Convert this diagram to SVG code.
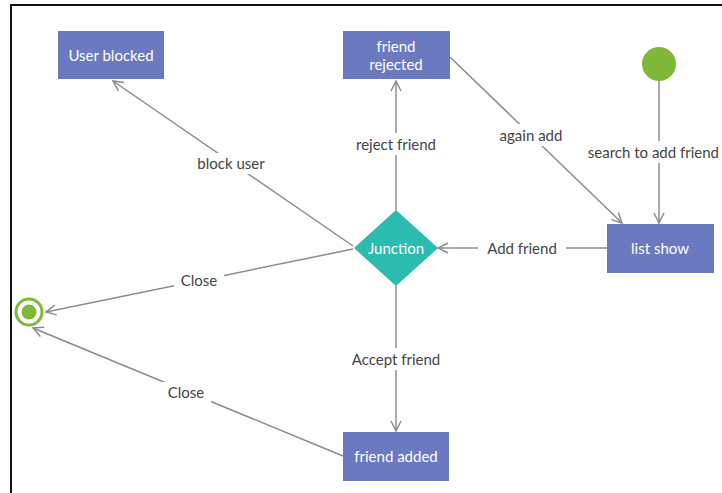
<svg xmlns="http://www.w3.org/2000/svg" width="722" height="493" viewBox="0 0 722 493">
<style>
.node{fill:#6b79c0}
.nt{font-family:Lato,"Liberation Sans",sans-serif;font-size:15px;fill:#ffffff;text-anchor:middle;dominant-baseline:central}
.lbl{font-family:Lato,"Liberation Sans",sans-serif;font-size:15px;fill:#444444;text-anchor:middle;dominant-baseline:central}
.bg{fill:#ffffff}
.edge{stroke:#8c8c8c;stroke-width:1.5;fill:none;marker-end:url(#arr)}
</style>
<defs>
<marker id="arr" viewBox="0 0 12 12" refX="11" refY="6" markerWidth="12" markerHeight="12" markerUnits="userSpaceOnUse" orient="auto">
<path d="M1,1 L11,6 L1,11" fill="none" stroke="#8c8c8c" stroke-width="1.5"/>
</marker>
</defs>
<rect x="0" y="0" width="722" height="493" fill="#ffffff"/>
<path d="M11,493 L11,5 L722,5" fill="none" stroke="#111111" stroke-width="2"/>
<g id="connectors">
<path class="edge" d="M353,246 L113,81"/>
<path class="edge" d="M353,249 L46,312"/>
<path class="edge" d="M343,456 L33,328"/>
<path class="edge" d="M396,210 L396,81"/>
<path class="edge" d="M450,57 L622,223"/>
<path class="edge" d="M659,81 L659,223"/>
<path class="edge" d="M607,248 L438,248"/>
<path class="edge" d="M396,286 L396,431"/>
<rect class="bg" x="192" y="153" width="78" height="21"/>
<text class="lbl" x="231" y="163">block user</text>
<rect class="bg" x="174" y="270" width="50" height="21"/>
<text class="lbl" x="199" y="280">Close</text>
<rect class="bg" x="161" y="382" width="50" height="21"/>
<text class="lbl" x="186" y="392">Close</text>
<rect class="bg" x="347" y="133" width="98" height="22"/>
<text class="lbl" x="396" y="144">reject friend</text>
<rect class="bg" x="492" y="124" width="78" height="22"/>
<text class="lbl" x="531" y="135">again add</text>
<rect class="bg" x="584" y="141" width="138" height="22"/>
<text class="lbl" x="719" y="152" style="text-anchor:end">search to add friend</text>
<rect class="bg" x="478" y="237" width="88" height="22"/>
<text class="lbl" x="522" y="248">Add friend</text>
<rect class="bg" x="341" y="348" width="110" height="22"/>
<text class="lbl" x="396" y="359">Accept friend</text>
</g>
<g id="user-blocked">
<rect class="node" x="58" y="31" width="106" height="48"/>
<text class="nt" x="111" y="55">User blocked</text>
</g>
<g id="friend-rejected">
<rect class="node" x="343" y="31" width="107" height="48"/>
<text class="nt" x="396" y="46">friend</text>
<text class="nt" x="396" y="64">rejected</text>
</g>
<g id="start">
<circle cx="659" cy="64" r="17" fill="#80b83a"/>
</g>
<g id="list-show">
<rect class="node" x="607" y="224" width="107" height="49"/>
<text class="nt" x="660" y="248">list show</text>
</g>
<g id="junction">
<path d="M396,210 L438,248 L396,286 L354,248 Z" fill="#2bbcaf"/>
<text class="nt" x="396" y="248">Junction</text>
</g>
<g id="friend-added">
<rect class="node" x="343" y="432" width="106" height="49"/>
<text class="nt" x="396" y="456">friend added</text>
</g>
<g id="end">
<circle cx="29" cy="312" r="13" fill="#ffffff" stroke="#80b83a" stroke-width="3"/>
<circle cx="29" cy="312" r="7.5" fill="#80b83a"/>
</g>
</svg>
